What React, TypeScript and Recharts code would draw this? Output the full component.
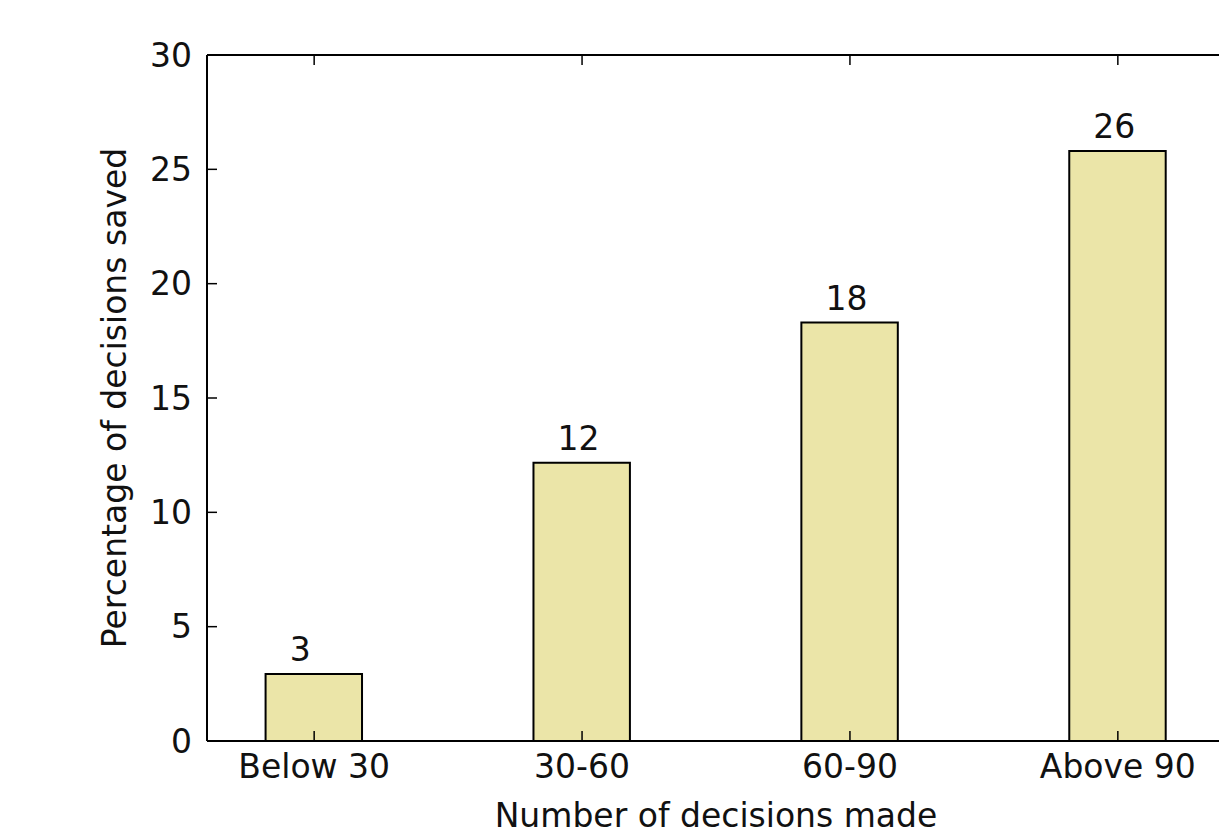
import React from 'react';
import { ComposedChart, Bar, Scatter, XAxis, YAxis, LabelList, ReferenceLine } from 'recharts';

const categories = ['Below 30', '30-60', '60-90', 'Above 90'];
const savedPercent = [2.93, 12.17, 18.3, 25.8];
const xTicks = [0, 1, 2, 3];
const yTicks = [0, 5, 10, 15, 20, 25, 30];

const X_DOMAIN = [-0.4, 3.4];
const Y_DOMAIN = [0, 30];

const data = categories.map((name, i) => ({ pos: i, name, value: savedPercent[i] }));
// anchor points for the inward tick marks on the bottom and left spines
const bottomTickPts = xTicks.map((t) => ({ pos: t, tv: Y_DOMAIN[0] }));
const leftTickPts = yTicks.map((t) => ({ pos: X_DOMAIN[0], tv: t }));

const FONT = '"DejaVu Sans", Verdana, sans-serif';
const INK = '#111';
const axisLine = { stroke: '#000', strokeWidth: 2 };
const TICK_PX = 10;
const Y_TICK_LEN = 0.44; // ~10px in data units

const BottomTick = (props: any) => {
  const { x, y, payload } = props;
  return (
    <text x={x} y={y} dy="0.71em" textAnchor="middle" fontFamily={FONT} fontSize={33} fill={INK}>
      {categories[payload.value]}
    </text>
  );
};

const LeftTick = (props: any) => {
  const { x, y, payload } = props;
  return (
    <text x={x} y={y} dy="0.355em" textAnchor="end" fontFamily={FONT} fontSize={33} fill={INK}>
      {payload.value}
    </text>
  );
};

const UpMark = (props: any) => {
  const { cx, cy } = props;
  return <line x1={cx} x2={cx} y1={cy} y2={cy - TICK_PX} stroke="#000" strokeWidth={1.5} />;
};

const RightMark = (props: any) => {
  const { cx, cy } = props;
  return <line x1={cx} x2={cx + TICK_PX} y1={cy} y2={cy} stroke="#000" strokeWidth={1.5} />;
};

const BarValue = (props: any) => {
  const { x, y, width, value } = props;
  return (
    <text x={x + width / 4} y={y - 13} textAnchor="start" fontFamily={FONT} fontSize={33} fill={INK}>
      {Math.round(value)}
    </text>
  );
};

const XTitle = (props: any) => {
  const vb = props.viewBox;
  return (
    <text x={vb.x + vb.width / 2} y={vb.y + 86} textAnchor="middle" fontFamily={FONT} fontSize={33} fill={INK}>
      Number of decisions made
    </text>
  );
};

const YTitle = (props: any) => {
  const vb = props.viewBox;
  const cx = vb.x + 9;
  const cy = vb.y + vb.height / 2;
  return (
    <text x={cx} y={cy} transform={`rotate(-90, ${cx}, ${cy})`} textAnchor="middle" fontFamily={FONT} fontSize={33} fill={INK}>
      Percentage of decisions saved
    </text>
  );
};

const App = () => {
  return (
    <div style={{ position: 'fixed', left: 0, top: 0, width: 1219, height: 838, overflow: 'hidden', background: '#fff' }}>
      <ComposedChart width={1240} height={838} data={data} margin={{ top: 54, right: 15, bottom: 0, left: 117 }}>
        <XAxis
          dataKey="pos"
          type="number"
          domain={X_DOMAIN}
          ticks={xTicks}
          height={97}
          axisLine={axisLine}
          tickLine={false}
          tickSize={0}
          tickMargin={14}
          tick={<BottomTick />}
          interval={0}
          label={<XTitle />}
        />
        <XAxis
          xAxisId="top"
          dataKey="pos"
          type="number"
          orientation="top"
          domain={X_DOMAIN}
          ticks={xTicks}
          height={1}
          axisLine={axisLine}
          tickLine={false}
          tick={false}
        />
        <YAxis
          type="number"
          domain={Y_DOMAIN}
          ticks={yTicks}
          width={90}
          axisLine={axisLine}
          tickLine={false}
          tickSize={0}
          tickMargin={15}
          tick={<LeftTick />}
          interval={0}
          label={<YTitle />}
        />
        <Bar dataKey="value" barSize={160} fill="#ebe5a8" stroke="#000" strokeWidth={2} isAnimationActive={false}>
          <LabelList dataKey="value" content={<BarValue />} />
        </Bar>
        <Scatter data={bottomTickPts} dataKey="tv" shape={<UpMark />} isAnimationActive={false} legendType="none" />
        <Scatter data={leftTickPts} dataKey="tv" shape={<RightMark />} isAnimationActive={false} legendType="none" />
        {xTicks.map((t) => (
          <ReferenceLine
            key={`t${t}`}
            segment={[{ x: t, y: Y_DOMAIN[1] }, { x: t, y: Y_DOMAIN[1] - Y_TICK_LEN }]}
            stroke="#000"
            strokeWidth={1.5}
          />
        ))}
      </ComposedChart>
    </div>
  );
};

export default App;
